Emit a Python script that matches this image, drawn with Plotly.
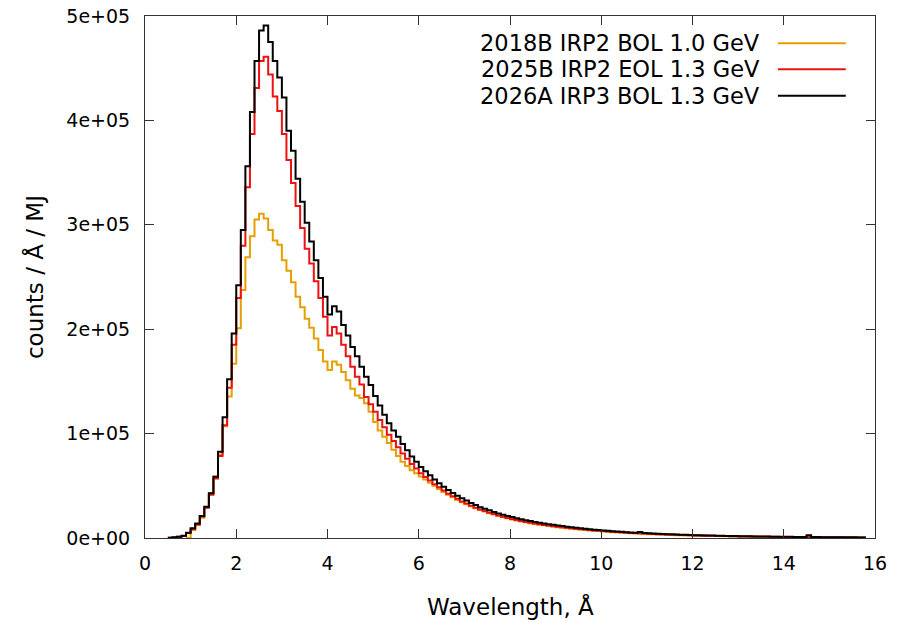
import plotly.graph_objects as go

# Histogram bins: left edges in Angstrom, width 0.1
bin_width = 0.1
bin_start = [round(0.5 + bin_width * i, 1) for i in range(153)]

series_names = ["2018B IRP2 BOL 1.0 GeV", "2025B IRP2 EOL 1.3 GeV", "2026A IRP3 BOL 1.3 GeV"]
series_colors = ["#E69F00", "#EE1111", "#000000"]

counts_2026A = [
    300, 600, 1300, 2200, 5100, 9300, 14000, 21000, 30000, 42800,
    58700, 82700, 115600, 152000, 196000, 242000, 295000, 356000, 408000, 457000,
    486000, 491000, 475000, 457000, 441000, 422000, 390000, 371000, 344000, 322000,
    302000, 284000, 266000, 249000, 231000, 214000, 222000, 217000, 204000, 194000,
    183000, 174000, 164000, 154500, 146500, 136000, 127000, 118000, 110000, 103000,
    97000, 90000, 84000, 78000, 73000, 68000, 64000, 60000, 56000, 52500,
    49000, 46000, 43000, 40500, 38000, 36000, 33500, 31500, 29500, 28000,
    26500, 25000, 23500, 22200, 21000, 20000, 19000, 18000, 17000, 16200,
    15400, 14600, 13900, 13200, 12600, 12000, 11400, 10800, 10300, 9800,
    9300, 8800, 8400, 8000, 7600, 7200, 6900, 6500, 6200, 5900,
    5600, 5300, 5100, 5800, 4700, 4500, 4300, 4100, 3900, 3700,
    3500, 3400, 3200, 3000, 2900, 2700, 2600, 2500, 2400, 2300,
    2200, 2100, 2000, 1900, 1800, 1700, 1650, 1600, 1500, 1450,
    1400, 1350, 1300, 1250, 1200, 1150, 1100, 1050, 1000, 950,
    2600, 900, 850, 800, 780, 750, 700, 680, 650, 620,
    600, 580, 550,
]

counts_2025B = [
    250, 550, 1200, 2000, 4800, 8500, 13000, 20500, 29000, 41500,
    57000, 78500, 108000, 144000, 185000, 230000, 280000, 336000, 387000, 431000,
    457000, 461000, 444000, 423000, 409000, 387000, 362000, 340000, 318000, 297000,
    277000, 263000, 246000, 230000, 212000, 194000, 202000, 196000, 185000, 174000,
    164000, 154500, 147000, 135000, 128000, 121000, 113000, 106000, 99000, 93000,
    87000, 81000, 76000, 71000, 66500, 62000, 58500, 55000, 51500, 48500,
    45500, 42500, 40000, 37500, 35000, 33000, 31000, 29000, 27300, 25800,
    24300, 22900, 21500, 20300, 19200, 18200, 17200, 16300, 15400, 14600,
    13900, 13200, 12500, 11900, 11300, 10800, 10300, 9800, 9300, 8900,
    8500, 8100, 7700, 7300, 7000, 6600, 6300, 6000, 5700, 5400,
    5200, 4900, 4700, 4500, 4300, 4100, 3900, 3700, 3500, 3400,
    3200, 3100, 2900, 2800, 2700, 2500, 2400, 2300, 2200, 2100,
    2000, 1900, 1800, 1700, 1650, 1550, 1500, 1450, 1400, 1300,
    1250, 1200, 1150, 1100, 1050, 1000, 950, 900, 870, 830,
    800, 770, 740, 710, 680, 650, 620, 600, 570, 550,
    530, 510, 490,
]

counts_2018B = [
    None, None, None, None, 0, 7700, 12500, 19500, 29500, 43000,
    59000, 80000, 107000, 135500, 167000, 201000, 237500, 269000, 289000, 305000,
    310500, 306000, 295000, 285000, 281000, 266000, 256000, 245000, 231000, 221000,
    210000, 201500, 191000, 180000, 169000, 161000, 169000, 166000, 159000, 151000,
    143000, 136500, 134000, 129000, 121000, 111000, 103000, 97000, 91000, 84500,
    78500, 73000, 69000, 65000, 62000, 59000, 56000, 53000, 50000, 47000,
    44000, 41500, 39000, 36500, 34200, 32300, 30300, 28500, 26800, 25300,
    23800, 22400, 21100, 19900, 18800, 17800, 16800, 15900, 15000, 14200,
    13500, 12800, 12100, 11500, 10900, 10400, 9900, 9400, 8900, 8500,
    8100, 7700, 7300, 6900, 6600, 6200, 5900, 5600, 5300, 5000,
    4800, 4500, 4300, 4100, 3900, 3700, 3500, 3300, 3200, 3000,
    2900, 2700, 2600, 2500, 2400, 2300, 2200, 2100, 2000, 1900,
    1800, 1700, 1650, 1550, 1500, 1400, 1350, 1300, 1250, 1200,
    1150, 1100, 1050, 1000, 950, 900, 870, 840, 810, 780,
    1800, 740, 710, 690, 660, 640, 610, 590, 570, 550,
    530, 510, 490,
]

x_ticks = [0, 2, 4, 6, 8, 10, 12, 14, 16]
y_ticks = [0, 100000, 200000, 300000, 400000, 500000]
y_tick_labels = ["0e+00", "1e+05", "2e+05", "3e+05", "4e+05", "5e+05"]

FONT = "DejaVu Sans"

# step edges: each bin start plus the final right edge
edges = bin_start + [round(bin_start[-1] + bin_width, 1)]

fig = go.Figure()
for name, color, vals in zip(series_names, series_colors, [counts_2018B, counts_2025B, counts_2026A]):
    fig.add_trace(go.Scatter(
        x=edges, y=vals + [vals[-1]], mode="lines", name=name,
        line=dict(color=color, width=2, shape="hv"), showlegend=False,
        connectgaps=False,
    ))

# legend (gnuplot style: text right-aligned, sample line to the right)
leg_y = [0.948, 0.898, 0.847]
for name, color, yy in zip(series_names, series_colors, leg_y):
    fig.add_annotation(x=0.845, y=yy, xref="paper", yref="paper", text=name,
                       showarrow=False, xanchor="right", yanchor="middle",
                       font=dict(family=FONT, size=22.5, color="black"))
    fig.add_shape(type="line", xref="paper", yref="paper", x0=0.867, x1=0.960,
                  y0=yy, y1=yy, line=dict(color=color, width=2))

fig.add_annotation(x=0.5, y=-0.132, xref="paper", yref="paper", text="Wavelength, Å",
                   showarrow=False, xanchor="center", yanchor="middle",
                   font=dict(family=FONT, size=23, color="black"))
fig.add_annotation(x=-0.152, y=0.5, xref="paper", yref="paper", text="counts / Å / MJ",
                   showarrow=False, xanchor="center", yanchor="middle", textangle=-90,
                   font=dict(family=FONT, size=23, color="black"))

axis_common = dict(showgrid=False, zeroline=False, showline=True, linecolor="#333333",
                   linewidth=1, mirror="ticks", ticks="inside", ticklen=9,
                   tickcolor="#333333", tickwidth=1, automargin=False,
                   tickfont=dict(family=FONT, size=19, color="black"))

fig.update_xaxes(range=[0, 16], tickvals=x_ticks, ticklabelstandoff=8, **axis_common)
fig.update_yaxes(range=[0, 500000], tickvals=y_ticks, ticktext=y_tick_labels,
                 ticklabelstandoff=10, **axis_common)

fig.update_layout(
    width=907, height=622,
    margin=dict(l=145, r=32, t=16, b=84, autoexpand=False),
    paper_bgcolor="white", plot_bgcolor="white",
    font=dict(family=FONT, size=19, color="black"),
)

fig.write_html("out.html", config={"displayModeBar": False},
               post_script="document.body.style.margin='0';")
